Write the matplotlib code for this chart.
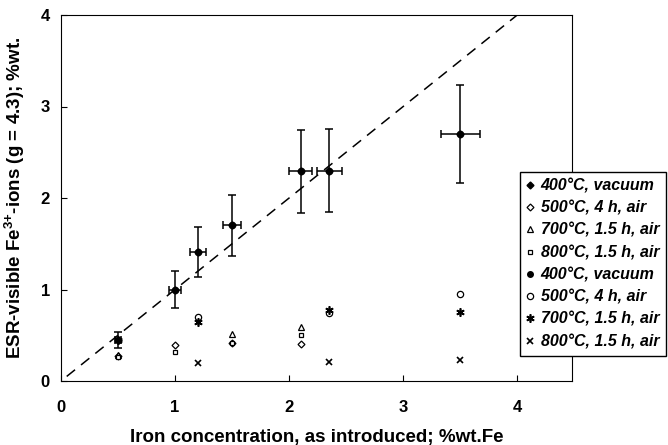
import numpy as np
import matplotlib
matplotlib.use("Agg")
import matplotlib.pyplot as plt

plt.rcParams['font.family'] = ['Liberation Sans', 'DejaVu Sans']
plt.rcParams['font.weight'] = 'bold'
plt.rcParams['mathtext.fontset'] = 'custom'
plt.rcParams['mathtext.rm'] = 'Liberation Sans:bold'
plt.rcParams['mathtext.bf'] = 'Liberation Sans:bold'

# 400C vacuum, with error bars
vac_x = [0.5, 1.0, 1.2, 1.5, 2.1, 2.35, 3.5]
vac_y = [0.45, 1.0, 1.41, 1.70, 2.29, 2.30, 2.70]
vac_yerr = [0.09, 0.20, 0.27, 0.33, 0.45, 0.45, 0.54]
vac_xerr = [0.03, 0.05, 0.07, 0.08, 0.10, 0.11, 0.17]

# first set of air anneals
a500_x = [0.5, 1.0, 1.5, 2.1]
a500_y = [0.27, 0.39, 0.42, 0.40]
a700_x = [0.5, 1.5, 2.1]
a700_y = [0.28, 0.51, 0.59]
a800_x = [0.5, 1.0, 1.5, 2.1]
a800_y = [0.26, 0.32, 0.41, 0.50]

# second set
b500_x = [1.2, 2.35, 3.5]
b500_y = [0.70, 0.74, 0.95]
b700_x = [0.5, 1.2, 2.35, 3.5]
b700_y = [0.45, 0.64, 0.78, 0.75]
b800_x = [1.2, 2.35, 3.5]
b800_y = [0.20, 0.21, 0.23]

labels = ['400°C, vacuum', '500°C, 4 h, air', '700°C, 1.5 h, air', '800°C, 1.5 h, air']

fig = plt.figure(figsize=(6.68, 4.45), dpi=100)
ax = fig.add_axes([61/668, 1-381/445, 511/668, 366/445])

ax.plot([0.05, 4.0], [0.05, 4.0], color='black', lw=1.1, dashes=(7, 5))

h = []
h.append(ax.plot(vac_x, vac_y, 'D', color='black', ms=3.5, ls='none')[0])
h.append(ax.plot(a500_x, a500_y, 'D', mfc='white', mec='black', ms=3.5, mew=0.9, ls='none')[0])
h.append(ax.plot(a700_x, a700_y, '^', mfc='white', mec='black', ms=4, mew=0.9, ls='none')[0])
h.append(ax.plot(a800_x, a800_y, 's', mfc='white', mec='black', ms=3.5, mew=0.9, ls='none')[0])

ax.errorbar(vac_x, vac_y, yerr=vac_yerr, xerr=vac_xerr, fmt='o', color='black',
            ms=4.5, elinewidth=1.1, capsize=3, capthick=1.1)
h.append(ax.plot([], [], 'o', color='black', ms=4, ls='none')[0])
h.append(ax.plot(b500_x, b500_y, 'o', mfc='white', mec='black', ms=4.5, mew=0.9, ls='none')[0])
h.append(ax.plot(b700_x, b700_y, marker=(6, 2, 0), color='black', ms=6, mew=1.2, ls='none')[0])
h.append(ax.plot(b800_x, b800_y, 'x', color='black', ms=5, mew=1.2, ls='none')[0])

ax.set_xlim(0, 4.48)
ax.set_ylim(0, 4)
ax.set_xticks([0, 1, 2, 3, 4])
ax.set_yticks([0, 1, 2, 3, 4])
ax.tick_params(direction='in', length=4, width=0.8, labelsize=12, pad=8)
ax.tick_params(axis='x', pad=14)
for lab in ax.get_xticklabels() + ax.get_yticklabels():
    lab.set_fontweight('bold')

ax.set_xlabel('Iron concentration, as introduced; %wt.Fe', fontsize=13.5, fontweight='bold', labelpad=10)
ax.set_ylabel('ESR-visible Fe$^{\\text{3+}}$-ions (g = 4.3); %wt.', fontsize=13.5,
              fontweight='bold', labelpad=10)

leg = fig.legend(h, labels + labels, loc='upper left', bbox_to_anchor=(520/668, 1-172/445),
                 borderaxespad=0, frameon=True, fancybox=False, edgecolor='black', framealpha=1,
                 handlelength=0.5, handletextpad=0.4, labelspacing=0.45, borderpad=0.4,
                 prop={'style': 'italic', 'weight': 'bold', 'size': 11.5})
leg.get_frame().set_linewidth(1.0)

fig.savefig('out.png', dpi=100)
